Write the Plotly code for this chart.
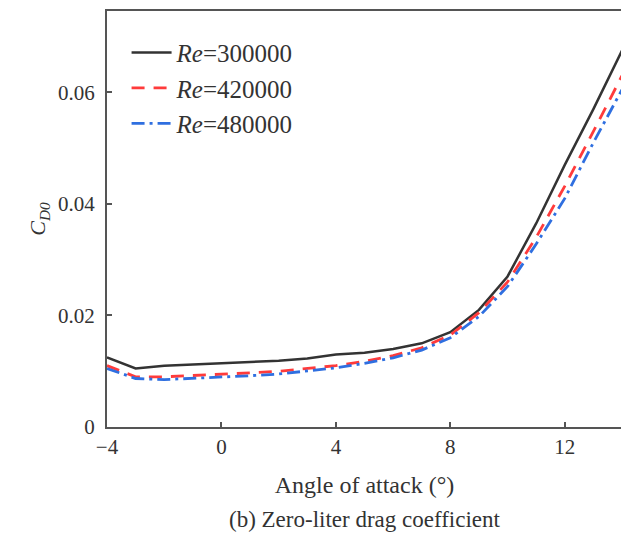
import plotly.graph_objects as go

angle = [-4, -3, -2, -1, 0, 1, 2, 3, 4, 5, 6, 7, 8, 9, 10, 11, 12, 13, 14]
cd0_300k = [0.0125, 0.0105, 0.0110, 0.0112, 0.0114, 0.0116, 0.0119, 0.0123, 0.0130, 0.0133, 0.0140, 0.0150, 0.0170, 0.0210, 0.0270, 0.0365, 0.0470, 0.0570, 0.0675]
cd0_420k = [0.0110, 0.0090, 0.0090, 0.0092, 0.0095, 0.0097, 0.0100, 0.0105, 0.0110, 0.0118, 0.0128, 0.0142, 0.0165, 0.0205, 0.0260, 0.0340, 0.0432, 0.0530, 0.0630]
cd0_480k = [0.0105, 0.0087, 0.0085, 0.0087, 0.0090, 0.0092, 0.0095, 0.0100, 0.0106, 0.0114, 0.0124, 0.0138, 0.0160, 0.0198, 0.0252, 0.0328, 0.0410, 0.0510, 0.0605]
series_names = ["<i>Re</i>=300000", "<i>Re</i>=420000", "<i>Re</i>=480000"]

font = "Liberation Serif"
fig = go.Figure()
fig.add_trace(go.Scatter(x=angle, y=cd0_300k, mode="lines", name=series_names[0],
                         line=dict(color="#333333", width=2.5)))
fig.add_trace(go.Scatter(x=angle, y=cd0_420k, mode="lines", name=series_names[1],
                         line=dict(color="#ff3b3b", width=2.8, dash="13px,9px")))
fig.add_trace(go.Scatter(x=angle, y=cd0_480k, mode="lines", name=series_names[2],
                         line=dict(color="#2f6fe0", width=2.8, dash="13px,5px,3px,5px")))

axis_common = dict(showline=True, linecolor="#555555", linewidth=2, mirror=True,
                   ticks="inside", ticklen=5, tickcolor="#555555", tickwidth=1.5,
                   showgrid=False, zeroline=False,
                   tickfont=dict(family=font, size=21, color="#333333"))

fig.update_layout(
    width=629, height=537,
    margin=dict(l=99, r=15, t=1, b=118),
    plot_bgcolor="white", paper_bgcolor="white",
    font=dict(family=font, color="#333333"),
    xaxis=dict(range=[-4, 14], tickvals=[-4, 0, 4, 8, 12], ticktext=["\u22124", "0", "4", "8", "12"],
               title=dict(text="Angle of attack (°)", font=dict(family=font, size=24), standoff=18),
               **axis_common),
    yaxis=dict(range=[0, 0.0746], tickvals=[0, 0.02, 0.04, 0.06], ticktext=["0", "0.02", "0.04", "0.06"],
               ticklabelstandoff=6,
               title=dict(text="<i>C</i><sub><i>D0</i></sub>", font=dict(family=font, size=22), standoff=6),
               **axis_common),
    legend=dict(x=0.038, y=0.955, xanchor="left", yanchor="top", bgcolor="rgba(0,0,0,0)",
                font=dict(family=font, size=25, color="#333333"), tracegroupgap=0, itemwidth=40),
    showlegend=True,
)
fig.add_annotation(text="(b) Zero-liter drag coefficient", xref="paper", yref="paper",
                   x=0.5, y=-0.222, xanchor="center", yanchor="middle", showarrow=False,
                   font=dict(family=font, size=23, color="#333333"))

fig.write_html("out.html")
